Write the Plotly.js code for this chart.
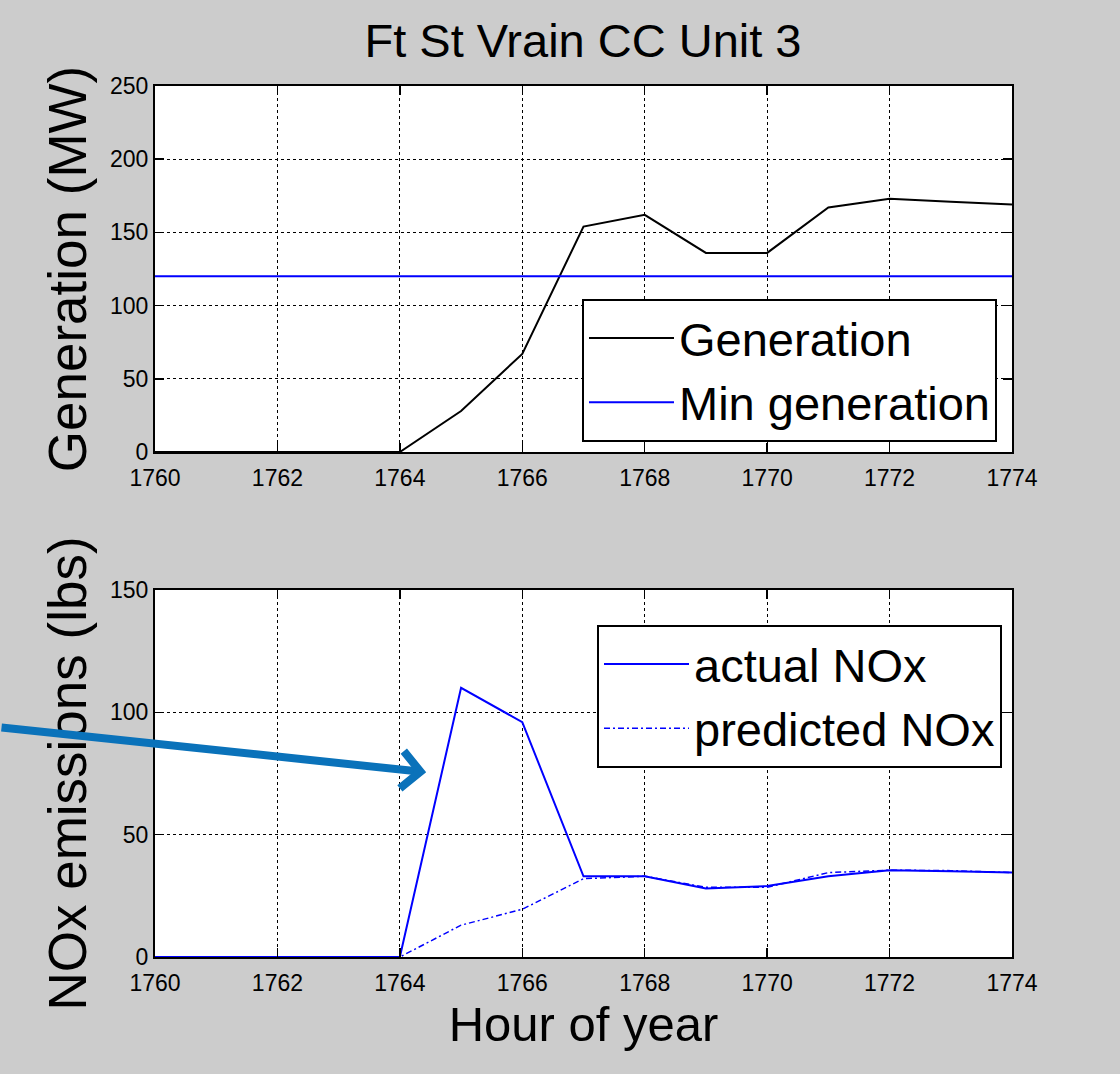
<!DOCTYPE html>
<html>
<head>
<meta charset="utf-8">
<script src="https://cdn.plot.ly/plotly-3.0.1.min.js"></script>
<style>html,body{margin:0;padding:0;background:#cccccc;}#chart{width:1120px;height:1074px;}</style>
</head>
<body>
<div id="chart"></div>
<script>
const hours = [1760,1761,1762,1763,1764,1765,1766,1767,1768,1769,1770,1771,1772,1773,1774];
const generation = [0,0,0,0,0,28,67,154,162,136,136,167,173,171,169];
const minGeneration = [120,120,120,120,120,120,120,120,120,120,120,120,120,120,120];
const actualNOx = [0,0,0,0,0,110,96,33,33,28,29,33,35.5,35,34.5];
const predictedNOx = [0,0,0,0,0,13,19.5,32,33,28.5,28.5,34.5,35.5,35.3,34.5];
const xTicks = [1760,1762,1764,1766,1768,1770,1772,1774];
const genTicks = [0,50,100,150,200,250];
const noxTicks = [0,50,100,150];

const FONT = 'Liberation Sans, Arial, Helvetica, sans-serif';

const traces = [
  {x: hours, y: generation, name: 'Generation', type: 'scatter', mode: 'lines',
   line: {color: '#000000', width: 2}, xaxis: 'x', yaxis: 'y', legend: 'legend'},
  {x: hours, y: minGeneration, name: 'Min generation', type: 'scatter', mode: 'lines',
   line: {color: '#0000ff', width: 2}, xaxis: 'x', yaxis: 'y', legend: 'legend'},
  {x: hours, y: actualNOx, name: 'actual NOx', type: 'scatter', mode: 'lines',
   line: {color: '#0000ff', width: 2}, xaxis: 'x2', yaxis: 'y2', legend: 'legend2'},
  {x: hours, y: predictedNOx, name: 'predicted NOx', type: 'scatter', mode: 'lines',
   line: {color: '#0000ff', width: 1.5, dash: '6px,3px,2px,3px'}, xaxis: 'x2', yaxis: 'y2', legend: 'legend2'}
];

function xAxis(anchor, withTitle) {
  const ax = {
    domain: [155/1120, 1012/1120], range: [1760, 1774], anchor: anchor,
    tickmode: 'array', tickvals: xTicks, ticktext: xTicks.map(String),
    ticks: 'inside', ticklen: 9, tickwidth: 1.5, tickcolor: '#000',
    showline: true, linecolor: '#000', linewidth: 2, mirror: 'allticks',
    showgrid: true, gridcolor: '#000', gridwidth: 1, griddash: 'dot',
    zeroline: false, tickfont: {family: FONT, size: 23, color: '#000'},
    ticklabelstandoff: 4
  };
  if (withTitle) ax.title = {text: 'Hour of year', font: {family: FONT, size: 49, color: '#000'}, standoff: 12};
  return ax;
}
function yAxis(anchor, domain, range, ticks, title) {
  return {
    domain: domain, range: range, anchor: anchor,
    tickmode: 'array', tickvals: ticks, ticktext: ticks.map(String),
    ticks: 'inside', ticklen: 9, tickwidth: 1.5, tickcolor: '#000',
    showline: true, linecolor: '#000', linewidth: 2, mirror: 'allticks',
    showgrid: true, gridcolor: '#000', gridwidth: 1, griddash: 'dot',
    zeroline: false, tickfont: {family: FONT, size: 23, color: '#000'},
    title: {text: title, font: {family: FONT, size: 53, color: '#000'}, standoff: 6}
  };
}

const layout = {
  width: 1120, height: 1074,
  paper_bgcolor: '#cccccc', plot_bgcolor: '#ffffff',
  margin: {l: 0, r: 0, t: 0, b: 0},
  font: {family: FONT, color: '#000'},
  title: {text: 'Ft St Vrain CC Unit 3', font: {family: FONT, size: 47, color: '#000'},
          x: 583/1120, xanchor: 'center', y: 1 - 41/1074, yanchor: 'middle'},
  xaxis: xAxis('y', false),
  yaxis: yAxis('x', [1 - 452/1074, 1 - 86/1074], [0, 250], genTicks, 'Generation (MW)'),
  xaxis2: xAxis('y2', true),
  yaxis2: yAxis('x2', [1 - 957/1074, 1 - 590/1074], [0, 150], noxTicks, 'NOx emissions (lbs)'),
  legend: {x: 997/1120, xanchor: 'right', y: 1 - 299/1074, yanchor: 'top',
           bgcolor: '#ffffff', bordercolor: '#000', borderwidth: 2,
           font: {family: FONT, size: 47, color: '#000'}, itemwidth: 85, tracegroupgap: 0},
  legend2: {x: 1002/1120, xanchor: 'right', y: 1 - 625/1074, yanchor: 'top',
           bgcolor: '#ffffff', bordercolor: '#000', borderwidth: 2,
           font: {family: FONT, size: 47, color: '#000'}, itemwidth: 85, tracegroupgap: 0},
  showlegend: true,
  annotations: [{
    xref: 'x2', yref: 'y2', x: 1764.43, y: 75.5, text: '',
    showarrow: true, arrowhead: 4, arrowsize: 0.9, arrowwidth: 8, arrowcolor: '#0a72ba',
    axref: 'pixel', ayref: 'pixel', ax: -445, ay: -45, standoff: 0
  }]
};

Plotly.newPlot('chart', traces, layout, {displayModeBar: false, staticPlot: true});
</script>
</body>
</html>
